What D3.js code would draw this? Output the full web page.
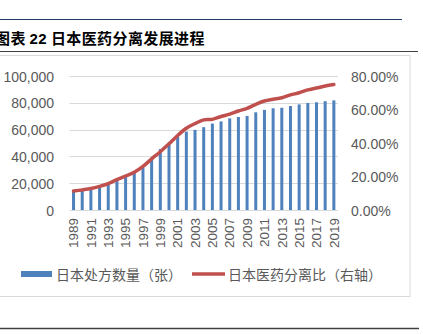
<!DOCTYPE html>
<html>
<head>
<meta charset="utf-8">
<script src="https://cdn.jsdelivr.net/npm/d3@7/dist/d3.min.js"></script>
<style>
  html, body { margin: 0; padding: 0; background: #fff; }
  svg { display: block; }
</style>
</head>
<body>
<svg id="chart" width="423" height="335"></svg>
<script>
// Years 1989–2019
const years = d3.range(1989, 2020).map(String);

// Number of prescriptions in Japan (left axis)
const prescriptions = [
  14300, 14700, 15500, 16900, 18800, 21600, 24500, 28000, 31700, 39000,
  45500, 50000, 54500, 58500, 59800, 61800, 64500, 66100, 68400, 69400,
  70200, 72900, 74700, 75900, 76300, 77600, 78800, 79900, 80400, 81200,
  81800
];

// Separation rate of prescribing and dispensing (right axis)
const separationRate = [
  0.113, 0.120, 0.128, 0.141, 0.158, 0.181, 0.203, 0.225, 0.260, 0.305,
  0.348, 0.395, 0.445, 0.488, 0.516, 0.538, 0.541, 0.558, 0.572, 0.591,
  0.607, 0.631, 0.651, 0.661, 0.670, 0.687, 0.700, 0.717, 0.728, 0.740,
  0.749
];

const leftTicks = [0, 20000, 40000, 60000, 80000, 100000];
const rightTicks = [0, 0.2, 0.4, 0.6, 0.8];
const xTickLabels = years.filter((d, i) => i % 2 === 0);

const legendLabels = ["日本处方数量（张）", "日本医药分离比（右轴）"];

const svg = d3.select("#chart");
const font = "Arial, 'Liberation Sans', 'Noto Sans CJK SC', sans-serif";
const cjk = "'Noto Sans CJK SC', 'Liberation Sans', sans-serif";

// Page decorations: header rule, title, rules around the figure
svg.append("line").attr("x1", 0).attr("x2", 402).attr("y1", 19.5).attr("y2", 19.5)
  .attr("stroke", "#1f3864").attr("stroke-width", 1);

const title = svg.append("text").attr("x", -5).attr("y", 44)
  .attr("font-family", cjk).attr("font-size", 15).attr("font-weight", "bold")
  .attr("letter-spacing", 0.4).attr("fill", "#000");
title.append("tspan").text("图表 ");
title.append("tspan").attr("font-family", "Arial, 'Liberation Sans', sans-serif").text("22");
title.append("tspan").text(" 日本医药分离发展进程");

svg.append("line").attr("x1", 0).attr("x2", 418).attr("y1", 51.5).attr("y2", 51.5)
  .attr("stroke", "#404040").attr("stroke-width", 1);

svg.append("rect").attr("x", -2).attr("y", 55.5).attr("width", 412).attr("height", 241)
  .attr("fill", "none").attr("stroke", "#d9d9d9").attr("stroke-width", 1);

svg.append("line").attr("x1", 0).attr("x2", 419).attr("y1", 328.5).attr("y2", 328.5)
  .attr("stroke", "#404040").attr("stroke-width", 1.5);

// Scales
const x = d3.scaleBand().domain(years).range([69.2, 338.2]).paddingInner(0).paddingOuter(0);
const yL = d3.scaleLinear().domain([0, 100000]).range([210, 76]);
const yR = d3.scaleLinear().domain([0, 0.8]).range([210, 76]);

// Gridlines
svg.append("g").selectAll("line").data(leftTicks).join("line")
  .attr("x1", 69.5).attr("x2", 338)
  .attr("y1", d => Math.round(yL(d)) + 0.5).attr("y2", d => Math.round(yL(d)) + 0.5)
  .attr("stroke", "#d9d9d9").attr("stroke-width", 1);

// Left axis
const leftAxis = svg.append("g").attr("transform", "translate(54,0)")
  .call(d3.axisLeft(yL).tickValues(leftTicks).tickSize(0).tickPadding(0)
    .tickFormat(d3.format(",")));
leftAxis.select(".domain").remove();
leftAxis.selectAll("text").attr("font-family", font).attr("font-size", 14)
  .attr("fill", "#595959").attr("dy", "0.36em");

// Right axis
const rightAxis = svg.append("g").attr("transform", "translate(351,0)")
  .call(d3.axisRight(yR).tickValues(rightTicks).tickSize(0).tickPadding(0)
    .tickFormat(d3.format(".2%")));
rightAxis.select(".domain").remove();
rightAxis.selectAll("text").attr("font-family", font).attr("font-size", 14)
  .attr("fill", "#595959").attr("dy", "0.36em");

// Bars
const barW = 3;
svg.append("g").selectAll("rect").data(prescriptions).join("rect")
  .attr("x", (d, i) => x(years[i]) + x.bandwidth() / 2 - barW / 2)
  .attr("y", d => yL(d))
  .attr("width", barW)
  .attr("height", d => yL(0) - yL(d))
  .attr("fill", "#4f81bd");

// Bottom axis with rotated year labels
const bottomAxis = svg.append("g").attr("transform", "translate(0,210)")
  .call(d3.axisBottom(x).tickValues(xTickLabels).tickSize(0).tickPadding(0));
bottomAxis.select(".domain").remove();
bottomAxis.selectAll("text")
  .attr("font-family", font).attr("font-size", 13.5).attr("fill", "#595959")
  .attr("transform", "rotate(-90)")
  .attr("text-anchor", "end")
  .attr("x", -8).attr("y", 0).attr("dy", "0.35em");

// Separation-rate line
const line = d3.line()
  .x((d, i) => x(years[i]) + x.bandwidth() / 2)
  .y(d => yR(d))
  .curve(d3.curveCatmullRom.alpha(0.5));
svg.append("path").datum(separationRate)
  .attr("d", line)
  .attr("fill", "none")
  .attr("stroke", "#c0504d")
  .attr("stroke-width", 3.5)
  .attr("stroke-linecap", "round")
  .attr("stroke-linejoin", "round");

// Legend
const legend = svg.append("g");
legend.append("rect").attr("x", 21).attr("y", 271).attr("width", 31).attr("height", 6)
  .attr("fill", "#4f81bd");
legend.append("text").attr("x", 56).attr("y", 279.5)
  .attr("font-family", cjk).attr("font-size", 14).attr("fill", "#595959")
  .text(legendLabels[0]);
legend.append("line").attr("x1", 192).attr("x2", 225).attr("y1", 274).attr("y2", 274)
  .attr("stroke", "#c0504d").attr("stroke-width", 3.5);
legend.append("text").attr("x", 228).attr("y", 279.5)
  .attr("font-family", cjk).attr("font-size", 14).attr("fill", "#595959")
  .text(legendLabels[1]);
</script>
</body>
</html>
